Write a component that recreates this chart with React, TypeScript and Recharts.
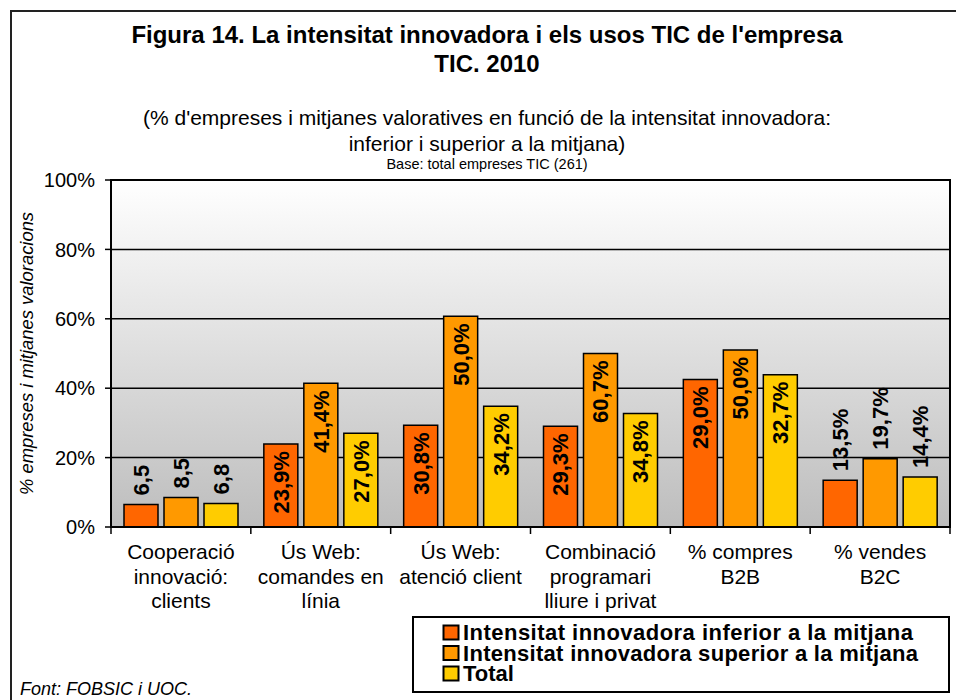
import { BarChart, Bar, XAxis, YAxis, CartesianGrid, LabelList } from "recharts";

const categories = [
  "Cooperació\ninnovació:\nclients",
  "Ús Web:\ncomandes en\nlínia",
  "Ús Web:\natenció client",
  "Combinació\nprogramari\nlliure i privat",
  "% compres\nB2B",
  "% vendes\nB2C",
];

const lowerValues = [6.5, 23.9, 29.3, 29.0, 42.5, 13.5];
const upperValues = [8.5, 41.4, 60.7, 50.0, 51.0, 19.7];
const totalValues = [6.8, 27.0, 34.8, 32.7, 43.9, 14.4];

const lowerLabels = ["6,5", "23,9%", "30,8%", "29,3%", "29,0%", "13,5%"];
const upperLabels = ["8,5", "41,4%", "50,0%", "60,7%", "50,0%", "19,7%"];
const totalLabels = ["6,8", "27,0%", "34,2%", "34,8%", "32,7%", "14,4%"];

const seriesNames = [
  "Intensitat innovadora inferior a la mitjana",
  "Intensitat innovadora superior a la mitjana",
  "Total",
];
const seriesColors = ["#FF6600", "#FF9900", "#FFCC00"];

const yTicks = [0, 20, 40, 60, 80, 100];

const FONT = "'Liberation Sans', Arial, Helvetica, sans-serif";
const W = 956;
const H = 700;
const PLOT_LEFT = 111;
const PLOT_TOP = 180;
const PLOT_RIGHT = 950;
const PLOT_BOTTOM = 527;

const data = categories.map((c, i) => ({
  name: c,
  lower: lowerValues[i],
  upper: upperValues[i],
  total: totalValues[i],
}));

// labels sit inside the top of tall bars, above short ones
function makeLabel(labels: string[]) {
  return (props: any) => {
    const { x, y, width, height, index } = props;
    const cx = Number(x) + Number(width) / 2;
    const top = Number(y);
    const inside = Number(height) >= 72;
    const ay = inside ? top + 7 : top - 9;
    return (
      <text
        x={cx}
        y={ay}
        dy="0.36em"
        transform={`rotate(-90, ${cx}, ${ay})`}
        textAnchor={inside ? "end" : "start"}
        fontFamily={FONT}
        fontWeight="bold"
        fontSize={22}
        fill="#000"
      >
        {labels[index]}
      </text>
    );
  };
}

// tick marks between categories, multi-line label in the middle
function CategoryTick(props: any) {
  const { x, y, payload, index } = props;
  const band = (PLOT_RIGHT - PLOT_LEFT) / categories.length;
  const half = payload && payload.offset ? payload.offset : band / 2;
  const lines = String(payload.value).split("\n");
  return (
    <g>
      <line x1={x - half} x2={x - half} y1={y} y2={y + 7} stroke="#000" strokeWidth={1.5} />
      {index === categories.length - 1 && (
        <line x1={x + half} x2={x + half} y1={y} y2={y + 7} stroke="#000" strokeWidth={1.5} />
      )}
      <text x={x} y={y + 32} textAnchor="middle" fontFamily={FONT} fontSize={21} fill="#000">
        {lines.map((l, i) => (
          <tspan key={i} x={x} dy={i === 0 ? 0 : 24.5}>
            {l}
          </tspan>
        ))}
      </text>
    </g>
  );
}

export default function App() {
  return (
    <div style={{ position: "absolute", left: 0, top: 0, width: W, height: H, background: "#fff", overflow: "hidden" }}>
      <div
        style={{
          position: "absolute",
          left: 10,
          top: 10,
          width: W,
          height: H,
          border: "2px solid #222",
        }}
      />
      <div style={{ position: "absolute", left: 0, top: 0 }}>
        <BarChart
          width={W}
          height={H}
          data={data}
          margin={{ top: PLOT_TOP, right: W - PLOT_RIGHT, bottom: 0, left: 0 }}
          barCategoryGap={13}
          barGap={6}
        >
          <defs>
            <linearGradient id="plotBg" x1="0" y1="0" x2="0" y2="1">
              <stop offset="0%" stopColor="#ffffff" />
              <stop offset="100%" stopColor="#bdbdbd" />
            </linearGradient>
          </defs>
          <CartesianGrid
            vertical={false}
            stroke="#000"
            strokeWidth={1.5}
            fill="url(#plotBg)"
            fillOpacity={1}
          />
          <XAxis
            dataKey="name"
            height={H - PLOT_BOTTOM}
            tickLine={false}
            tickSize={0}
            tickMargin={0}
            interval={0}
            axisLine={{ stroke: "#000", strokeWidth: 2 }}
            tick={<CategoryTick />}
          />
          <YAxis
            width={PLOT_LEFT}
            domain={[0, 100]}
            ticks={yTicks}
            interval={0}
            tickFormatter={(v) => `${v}%`}
            tickSize={6}
            tickMargin={10}
            tickLine={{ stroke: "#000", strokeWidth: 1.5 }}
            axisLine={{ stroke: "#000", strokeWidth: 2 }}
            tick={{ fontFamily: FONT, fontSize: 20, fill: "#000" }}
          />
          <Bar dataKey="lower" fill={seriesColors[0]} stroke="#000" strokeWidth={1.5} isAnimationActive={false}>
            <LabelList dataKey="lower" content={makeLabel(lowerLabels)} />
          </Bar>
          <Bar dataKey="upper" fill={seriesColors[1]} stroke="#000" strokeWidth={1.5} isAnimationActive={false}>
            <LabelList dataKey="upper" content={makeLabel(upperLabels)} />
          </Bar>
          <Bar dataKey="total" fill={seriesColors[2]} stroke="#000" strokeWidth={1.5} isAnimationActive={false}>
            <LabelList dataKey="total" content={makeLabel(totalLabels)} />
          </Bar>
        </BarChart>
      </div>
      <svg
        width={W}
        height={H}
        style={{ position: "absolute", left: 0, top: 0, pointerEvents: "none" }}
        fontFamily={FONT}
      >
        <rect
          x={PLOT_LEFT}
          y={PLOT_TOP}
          width={PLOT_RIGHT - PLOT_LEFT}
          height={PLOT_BOTTOM - PLOT_TOP}
          fill="none"
          stroke="#000"
          strokeWidth={2}
        />
        <text x={487} y={43} textAnchor="middle" fontWeight="bold" fontSize={24}>
          Figura 14. La intensitat innovadora i els usos TIC de l'empresa
        </text>
        <text x={487} y={72} textAnchor="middle" fontWeight="bold" fontSize={24}>
          TIC. 2010
        </text>
        <text x={487} y={125} textAnchor="middle" fontSize={21}>
          (% d'empreses i mitjanes valoratives en funció de la intensitat innovadora:
        </text>
        <text x={487} y={151} textAnchor="middle" fontSize={21}>
          inferior i superior a la mitjana)
        </text>
        <text x={487} y={169} textAnchor="middle" fontSize={14.5}>
          Base: total empreses TIC (261)
        </text>
        <text
          x={27}
          y={353.5}
          dy="0.35em"
          transform="rotate(-90, 27, 353.5)"
          textAnchor="middle"
          fontStyle="italic"
          fontSize={18.4}
        >
          % empreses i mitjanes valoracions
        </text>
        <text x={20} y={695} fontStyle="italic" fontSize={18}>
          Font: FOBSIC i UOC.
        </text>
        {/* legend */}
        <rect x={413} y={617} width={536} height={75} fill="#fff" stroke="#000" strokeWidth={2} />
        {seriesNames.map((n, i) => {
          const base = 640 + i * 20.5;
          return (
            <g key={n}>
              <rect x={443.5} y={base - 14.5} width={15} height={14} fill={seriesColors[i]} stroke="#000" strokeWidth={2} />
              <text x={463} y={base} fontWeight="bold" fontSize={22} textLength={i < 2 ? (i === 0 ? 450 : 455) : undefined}>
                {n}
              </text>
            </g>
          );
        })}
      </svg>
    </div>
  );
}
